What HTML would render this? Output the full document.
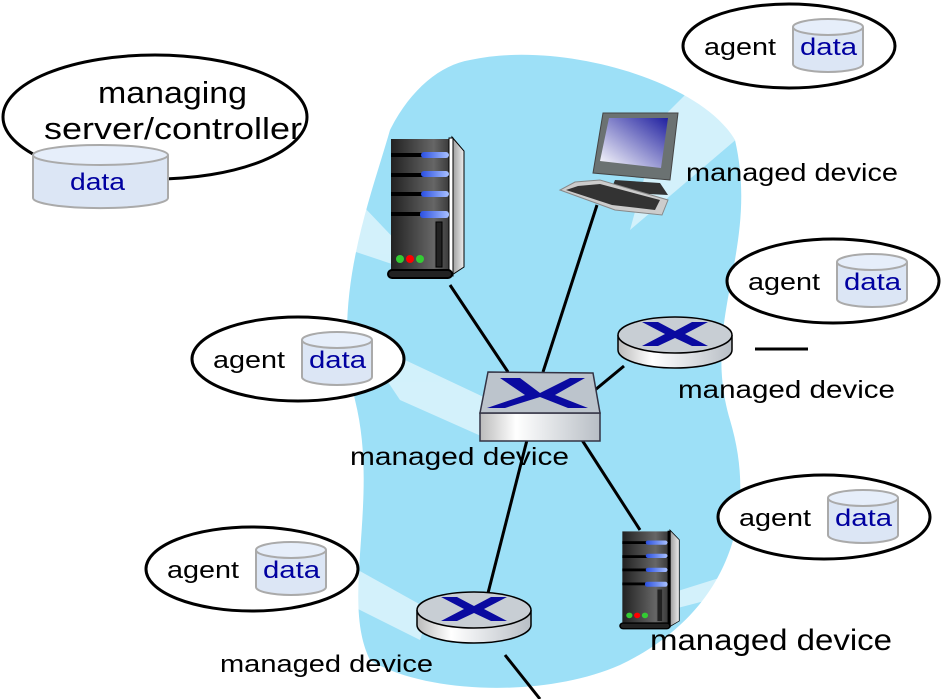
<!DOCTYPE html>
<html><head><meta charset="utf-8"><style>
body{margin:0;background:#fff;}
svg{display:block;}
text{font-family:"Liberation Sans",sans-serif;}
</style></head><body>
<svg width="942" height="699" viewBox="0 0 942 699" xmlns="http://www.w3.org/2000/svg">
<defs>
<linearGradient id="srv" x1="0" x2="1"><stop offset="0" stop-color="#222"/><stop offset="0.7" stop-color="#666"/><stop offset="1" stop-color="#333"/></linearGradient>
<linearGradient id="side" x1="0" x2="1"><stop offset="0" stop-color="#999"/><stop offset="1" stop-color="#eee"/></linearGradient>
<linearGradient id="cyl" x1="0" x2="1"><stop offset="0" stop-color="#bbb"/><stop offset="0.3" stop-color="#fff"/><stop offset="1" stop-color="#b8bec5"/></linearGradient>
<linearGradient id="scr" x1="1" y1="0" x2="0" y2="1"><stop offset="0" stop-color="#2020a0"/><stop offset="1" stop-color="#fff"/></linearGradient>
<linearGradient id="bar" x1="0" x2="1"><stop offset="0" stop-color="#2a4fe0"/><stop offset="1" stop-color="#a8c0ff"/></linearGradient>
</defs>
<!-- blob -->
<path d="M470 60 C560 40 700 80 735 140 C760 250 700 320 730 420 C760 520 725 615 620 665 C540 700 420 692 370 660 C340 600 380 500 355 400 C330 300 370 200 390 130 C410 90 440 65 470 60 Z" fill="#9de0f7"/>
<!-- beams -->
<g fill="#fff" opacity="0.55">
<polygon points="170,165 300,140 405,250 395,265 170,190"/>
<polygon points="700,80 740,20 800,85 630,230 660,120"/>
<polygon points="760,300 900,300 760,345 720,340"/>
<polygon points="380,370 405,360 490,400 490,440 400,400"/>
<polygon points="840,540 900,550 670,610 665,595"/>
<polygon points="340,580 358,570 430,610 420,640 340,600"/>
</g>
<!-- lines -->
<g stroke="#000" stroke-width="3">
<line x1="450" y1="285" x2="508" y2="372"/>
<line x1="597" y1="205" x2="543" y2="372"/>
<line x1="595" y1="390" x2="624" y2="366"/>
<line x1="582" y1="440" x2="640" y2="530"/>
<line x1="527" y1="440" x2="487" y2="597"/>
<line x1="505" y1="655" x2="540" y2="699"/>
<line x1="755" y1="349" x2="808" y2="349"/>
</g>
<!-- big ellipse -->
<ellipse cx="155" cy="117" rx="152" ry="62" fill="#fff" stroke="#000" stroke-width="3"/>
<text x="98" y="103" font-size="31" textLength="149" lengthAdjust="spacingAndGlyphs">managing</text>
<text x="44" y="139" font-size="31" textLength="258" lengthAdjust="spacingAndGlyphs">server/controller</text>
<g>
<path d="M33 155 V198 A67 10 0 0 0 168 198 V155" fill="#dce6f5" stroke="#aaa" stroke-width="2"/>
<ellipse cx="100.5" cy="155" rx="67.5" ry="10" fill="#e6eefa" stroke="#aaa" stroke-width="2"/>
<text x="70" y="190" font-size="24" fill="#0000a0" textLength="55" lengthAdjust="spacingAndGlyphs">data</text>
</g>
<!-- agent ellipses -->
<g id="ag1">
<ellipse cx="789" cy="46" rx="106" ry="42" fill="#fff" stroke="#000" stroke-width="3"/>
<text x="704" y="55" font-size="24" textLength="72" lengthAdjust="spacingAndGlyphs">agent</text>
<path d="M793 27 V64 A35 8 0 0 0 863 64 V27" fill="#dce6f5" stroke="#aaa" stroke-width="2"/>
<ellipse cx="828" cy="27" rx="35" ry="8" fill="#e6eefa" stroke="#aaa" stroke-width="2"/>
<text x="800" y="55" font-size="24" fill="#0000a0" textLength="57" lengthAdjust="spacingAndGlyphs">data</text>
</g>
<use href="#ag1" transform="translate(44,235)"/>
<use href="#ag1" transform="translate(-491,313)"/>
<use href="#ag1" transform="translate(35,471)"/>
<use href="#ag1" transform="translate(-537,523)"/>
<!-- labels -->
<text x="686" y="181" font-size="25" textLength="212" lengthAdjust="spacingAndGlyphs">managed device</text>
<text x="678" y="398" font-size="25" textLength="217" lengthAdjust="spacingAndGlyphs">managed device</text>
<text x="350" y="465" font-size="25" textLength="219" lengthAdjust="spacingAndGlyphs">managed device</text>
<text x="220" y="672" font-size="24" textLength="213" lengthAdjust="spacingAndGlyphs">managed device</text>
<text x="650" y="650" font-size="30" textLength="242" lengthAdjust="spacingAndGlyphs">managed device</text>
<!-- big server -->
<g transform="translate(388,137)">
<polygon points="64,0 76,14 76,130 64,138" fill="url(#side)" stroke="#000"/>
<rect x="3" y="2" width="61" height="136" fill="url(#srv)"/>
<rect x="61" y="1" width="4" height="138" fill="#fff" stroke="#000"/>
<g fill="#000"><rect x="3" y="16" width="58" height="4"/><rect x="3" y="36" width="58" height="4"/><rect x="3" y="55" width="58" height="4"/><rect x="3" y="75" width="58" height="4"/></g>
<g fill="url(#bar)"><rect x="33" y="15" width="28" height="6" rx="3"/><rect x="33" y="34" width="28" height="6" rx="3"/><rect x="33" y="54" width="28" height="6" rx="3"/><rect x="32" y="74" width="29" height="7" rx="3"/></g>
<rect x="48" y="85" width="6" height="45" fill="#222" stroke="#000"/>
<circle cx="12" cy="122" r="4" fill="#3c3"/><circle cx="22" cy="122" r="4" fill="#f00"/><circle cx="32" cy="122" r="4" fill="#3c3"/>
<rect x="0" y="133" width="64" height="8" rx="4" fill="#222" stroke="#000" stroke-width="2"/>
</g>
<!-- small server -->
<g transform="translate(620,530) scale(0.78,0.7)">
<polygon points="64,0 76,14 76,130 64,138" fill="url(#side)" stroke="#000"/>
<rect x="3" y="2" width="61" height="136" fill="url(#srv)"/>
<rect x="61" y="1" width="4" height="138" fill="#000"/>
<g fill="#000"><rect x="3" y="16" width="58" height="4"/><rect x="3" y="36" width="58" height="4"/><rect x="3" y="55" width="58" height="4"/><rect x="3" y="75" width="58" height="4"/></g>
<g fill="url(#bar)"><rect x="33" y="15" width="28" height="6" rx="3"/><rect x="33" y="34" width="28" height="6" rx="3"/><rect x="33" y="54" width="28" height="6" rx="3"/><rect x="32" y="74" width="29" height="7" rx="3"/></g>
<rect x="48" y="85" width="6" height="45" fill="#222"/>
<circle cx="12" cy="122" r="4" fill="#3c3"/><circle cx="22" cy="122" r="4" fill="#f00"/><circle cx="32" cy="122" r="4" fill="#3c3"/>
<rect x="0" y="133" width="64" height="8" rx="4" fill="#222" stroke="#000" stroke-width="2"/>
</g>
<!-- switch -->
<g>
<rect x="480" y="413" width="120" height="28" fill="url(#cyl)" stroke="#334" stroke-width="1.5"/>
<polygon points="488,372 593,373 600,413 480,413" fill="#bcc4cc" stroke="#334" stroke-width="1.5"/>
<path d="M500 378 L520 378 L540 393 L570 378 L585 378 L555 395 L588 408 L568 408 L540 397 L505 408 L487 408 L525 395 Z" fill="#0a0aa0"/>
</g>
<!-- routers -->
<g id="rt">
<path d="M618 335 V350 A57 18 0 0 0 732 350 V335" fill="url(#cyl)" stroke="#000" stroke-width="1.5"/>
<ellipse cx="675" cy="335" rx="57" ry="18" fill="#c8ced4" stroke="#000" stroke-width="1.5"/>
<path d="M642 322 L658 322 L675 331 L692 322 L708 322 L685 334 L708 346 L692 346 L675 338 L658 346 L642 346 L665 334 Z" fill="#0a0aa0"/>
</g>
<use href="#rt" transform="translate(-201,275)"/>
<!-- computer -->
<g>
<polygon points="603,113 678,113 670,180 593,173" fill="#6b7272" stroke="#444"/>
<polygon points="609,118 668,118 661,168 600,161" fill="url(#scr)"/>
<polygon points="615,180 660,183 668,195 610,192" fill="#333"/>
<polygon points="575,182 600,180 668,200 662,215 615,210 560,190" fill="#ccc" stroke="#888"/>
<polygon points="578,186 600,184 660,200 655,210 612,205 566,190" fill="#333"/>
</g>
</svg>
</body></html>
